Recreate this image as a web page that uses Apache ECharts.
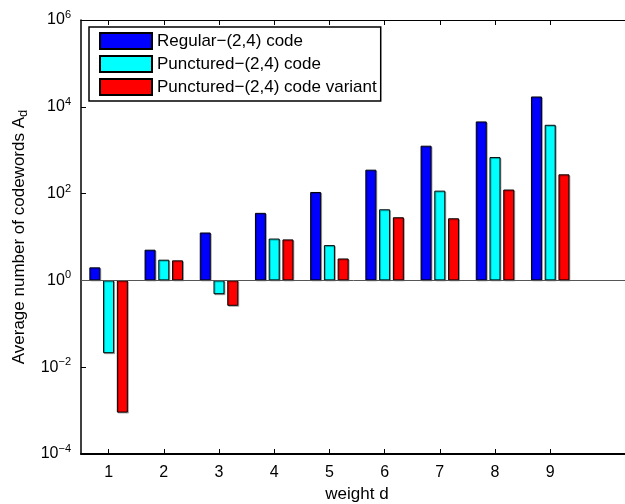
<!DOCTYPE html>
<html>
<head>
<meta charset="utf-8">
<script src="https://cdn.jsdelivr.net/npm/echarts@6/dist/echarts.min.js"></script>
<style>
  html, body { margin: 0; padding: 0; background: #fff; }
  #chart { width: 625px; height: 504px; }
</style>
</head>
<body>
<div id="chart"></div>
<script>
// Codeword weights (the 10th slot is empty padding on the right)
const weights = ['1', '2', '3', '4', '5', '6', '7', '8', '9', ''];

// Average number of codewords A_d per weight
const regular = [2.0, 5.1, 12.7, 36, 109, 356, 1270, 4600, 17300];
const punctured = [0.021, 3.0, 0.48, 9.2, 6.5, 43.5, 117, 694, 3850];
const puncturedVariant = [0.0009, 2.9, 0.26, 8.8, 3.2, 28.5, 27, 124, 278];

const seriesNames = [
  'Regular\u2212(2,4) code',
  'Punctured\u2212(2,4) code',
  'Punctured\u2212(2,4) code variant'
];
const seriesColors = ['#0000ff', '#00ffff', '#ff0000'];

const FONT = '"Liberation Sans", Arial, Helvetica, sans-serif';

function barSeries(name, data, color, extra) {
  return Object.assign({
    name: name,
    type: 'bar',
    data: data,
    barWidth: 11,
    barGap: '25%',
    itemStyle: {
      color: color,
      borderColor: '#000',
      borderWidth: 1,
      shadowColor: 'rgba(0,0,0,0.28)',
      shadowOffsetX: 1,
      shadowOffsetY: 1,
      shadowBlur: 0
    },
    emphasis: { disabled: true },
    animation: false
  }, extra || {});
}

const chart = echarts.init(document.getElementById('chart'), null, { renderer: 'canvas' });

chart.setOption({
  backgroundColor: '#fff',
  animation: false,
  textStyle: { fontFamily: FONT },
  grid: { left: 81, right: -8, top: 20, bottom: 50, containLabel: false, outerBoundsMode: 'none' },
  legend: {
    orient: 'vertical',
    left: 89,
    top: 27,
    data: seriesNames.map(function (n) { return { name: n, icon: 'rect' }; }),
    itemWidth: 52,
    itemHeight: 16,
    itemGap: 5,
    padding: [5, 4, 5, 10],
    backgroundColor: '#fff',
    borderColor: '#000',
    borderWidth: 1.5,
    borderRadius: 0,
    textStyle: { fontFamily: FONT, fontSize: 17, lineHeight: 16, color: '#000', padding: [0, 0, 0, 0] },
    selectedMode: false
  },
  xAxis: [
    {
      type: 'category',
      data: weights,
      position: 'bottom',
      name: 'weight d',
      nameLocation: 'middle',
      nameGap: 30,
      nameTextStyle: { fontFamily: FONT, fontSize: 17, color: '#000' },
      axisLine: { show: true, lineStyle: { color: '#000', width: 2 } },
      axisTick: {
        show: true, inside: true, length: 5, alignWithLabel: true,
        interval: function (idx) { return idx < 9; },
        lineStyle: { color: '#000', width: 1 }
      },
      axisLabel: { color: '#000', fontSize: 16, fontFamily: FONT, margin: 11, interval: 0 },
      splitLine: { show: false }
    },
    {
      type: 'category',
      data: weights,
      position: 'top',
      axisLine: { show: true, lineStyle: { color: '#000', width: 1.2 } },
      axisTick: {
        show: true, inside: true, length: 5, alignWithLabel: true,
        interval: function (idx) { return idx < 9; },
        lineStyle: { color: '#000', width: 1 }
      },
      axisLabel: { show: false },
      splitLine: { show: false }
    }
  ],
  yAxis: {
    type: 'log',
    logBase: 10,
    min: 1e-4,
    max: 1e6,
    interval: 2,
    name: 'Average number of codewords A{sub|d}',
    nameLocation: 'middle',
    nameRotate: 90,
    nameGap: 51,
    nameTextStyle: {
      fontFamily: FONT, fontSize: 17, color: '#000',
      rich: { sub: { fontFamily: FONT, fontSize: 13, color: '#000', verticalAlign: 'bottom', padding: [7, 0, 0, 0] } }
    },
    axisLine: { show: true, lineStyle: { color: '#000', width: 1.5 } },
    axisTick: { show: true, inside: true, length: 5, lineStyle: { color: '#000', width: 1 } },
    minorTick: { show: false },
    splitLine: { show: false },
    axisLabel: {
      color: '#000',
      margin: 10,
      formatter: function (v) {
        const e = Math.round(Math.log10(v));
        return '{base|10}{sup|' + (e < 0 ? '\u2212' + (-e) : e) + '}';
      },
      rich: {
        base: { fontFamily: FONT, fontSize: 16, color: '#000' },
        sup: { fontFamily: FONT, fontSize: 11, color: '#000', verticalAlign: 'top', padding: [0, 0, 10, 0] }
      }
    }
  },
  series: [
    barSeries(seriesNames[0], regular, seriesColors[0], {
      markLine: {
        silent: true,
        symbol: ['none', 'none'],
        label: { show: false },
        lineStyle: { color: '#555', width: 1, type: 'solid' },
        data: [{ yAxis: 1 }],
        animation: false
      }
    }),
    barSeries(seriesNames[1], punctured, seriesColors[1]),
    barSeries(seriesNames[2], puncturedVariant, seriesColors[2])
  ]
});
</script>
</body>
</html>
